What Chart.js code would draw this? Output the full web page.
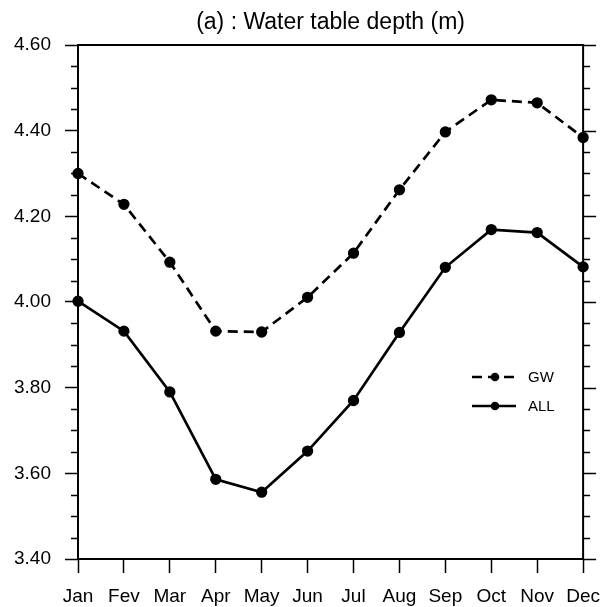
<!DOCTYPE html>
<html>
<head>
<meta charset="utf-8">
<script src="https://cdn.jsdelivr.net/npm/chart.js@4.4.1/dist/chart.umd.min.js"></script>
<style>
    html, body { margin: 0; padding: 0; background: #fff; }
    #box { width: 612px; height: 607px; position: relative; }
</style>
</head>
<body>
<div id="box"><canvas id="depth"></canvas></div>
<script>
// values
const months = ['Jan', 'Fev', 'Mar', 'Apr', 'May', 'Jun', 'Jul', 'Aug', 'Sep', 'Oct', 'Nov', 'Dec']
const gwDepth = [4.300, 4.228, 4.093, 3.932, 3.930, 4.011, 4.114, 4.262, 4.397, 4.472, 4.465, 4.384]
const allDepth = [4.002, 3.932, 3.790, 3.586, 3.556, 3.652, 3.770, 3.929, 4.081, 4.169, 4.162, 4.082]
const yMin = 3.4
const yMax = 4.6
const yMajor = 0.2
const yMinor = 0.05
const titleText = '(a) : Water table depth (m)'

const FONT = "'Liberation Sans', Arial, Helvetica, sans-serif"

// frame, minor ticks, right-side ticks, title and the in-plot legend
const nclDecor = {
    id: 'nclDecor',
    afterDraw(chart) {
        const ctx = chart.ctx
        const area = chart.chartArea
        const y = chart.scales.y
        ctx.save()
        ctx.strokeStyle = '#000'
        ctx.lineWidth = 2
        ctx.strokeRect(area.left, area.top, area.right - area.left, area.bottom - area.top)

        ctx.lineWidth = 1.5
        const n = Math.round((yMax - yMin) / yMinor)
        for (let i = 0; i <= n; i++) {
            const v = yMin + i * yMinor
            const py = Math.round(y.getPixelForValue(v)) + 0.5
            const major = i % Math.round(yMajor / yMinor) === 0
            ctx.beginPath()
            if (!major) {
                ctx.moveTo(area.left - 7, py)
                ctx.lineTo(area.left, py)
            }
            ctx.moveTo(area.right, py)
            ctx.lineTo(area.right + (major ? 13 : 7), py)
            ctx.stroke()
        }

        ctx.fillStyle = '#000'
        ctx.font = '23px ' + FONT
        ctx.textAlign = 'center'
        ctx.textBaseline = 'alphabetic'
        ctx.fillText(titleText, (area.left + area.right) / 2, 29)

        // legend
        const items = chart.data.datasets
        ctx.font = '15px ' + FONT
        ctx.textAlign = 'left'
        ctx.textBaseline = 'middle'
        items.forEach((ds, i) => {
            const ly = 377 + i * 29
            ctx.lineWidth = ds.borderWidth
            ctx.setLineDash(ds.borderDash || [])
            ctx.beginPath()
            ctx.moveTo(472, ly)
            ctx.lineTo(516, ly)
            ctx.stroke()
            ctx.setLineDash([])
            ctx.beginPath()
            ctx.arc(495, ly, ds.pointRadius, 0, Math.PI * 2)
            ctx.fill()
            ctx.fillText(ds.label, 528, ly + 1)
        })
        ctx.restore()
    }
}

new Chart(document.getElementById('depth'), {
    type: 'line',
    data: {
        labels: months,
        datasets: [
            {
                label: 'GW',
                data: gwDepth,
                borderColor: '#000',
                backgroundColor: '#000',
                borderWidth: 2.7,
                borderDash: [10, 6],
                pointRadius: 4.3,
                pointHoverRadius: 4.3,
                fill: false,
                tension: 0,
                clip: false
            }, {
                label: 'ALL',
                data: allDepth,
                borderColor: '#000',
                backgroundColor: '#000',
                borderWidth: 2.7,
                pointRadius: 4.3,
                pointHoverRadius: 4.3,
                fill: false,
                tension: 0,
                clip: false
            }
        ]
    },
    options: {
        responsive: true,
        maintainAspectRatio: false,
        animation: false,
        events: [],
        layout: {
            padding: { top: 45, right: 22, left: 0, bottom: 0 }
        },
        plugins: {
            legend: { display: false },
            title: { display: false },
            tooltip: { enabled: false }
        },
        scales: {
            x: {
                offset: false,
                border: { display: false },
                grid: {
                    drawOnChartArea: false,
                    drawTicks: true,
                    tickLength: 14,
                    tickColor: '#000',
                    tickWidth: 1.5,
                    offset: false
                },
                ticks: {
                    color: '#000',
                    font: { family: FONT, size: 19 },
                    padding: 12,
                    maxRotation: 0,
                    autoSkip: false
                },
                afterFit: (scale) => { scale.height = 48 }
            },
            y: {
                min: yMin,
                max: yMax,
                border: { display: false },
                grid: {
                    drawOnChartArea: false,
                    drawTicks: true,
                    tickLength: 13,
                    tickColor: '#000',
                    tickWidth: 1.5
                },
                ticks: {
                    stepSize: yMajor,
                    color: '#000',
                    font: { family: FONT, size: 19 },
                    padding: 14,
                    callback: (val) => val.toFixed(2)
                },
                afterFit: (scale) => { scale.width = 78 }
            }
        }
    },
    plugins: [nclDecor]
});
</script>
</body>
</html>
